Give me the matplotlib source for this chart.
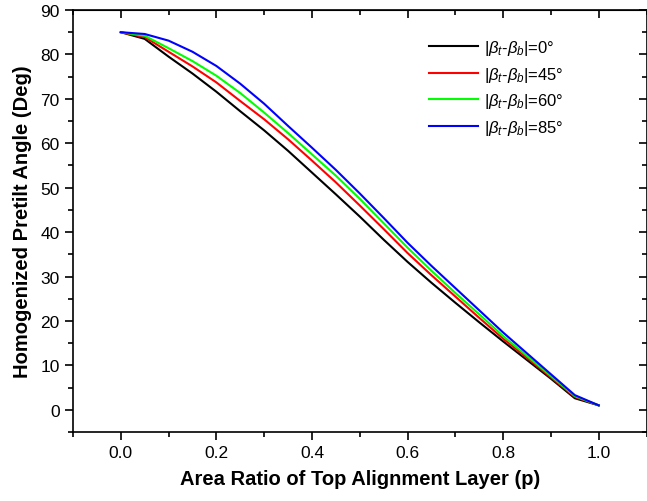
import matplotlib
matplotlib.use("Agg")
import matplotlib.pyplot as plt
from matplotlib.ticker import MultipleLocator

plt.rcParams['font.family'] = ['Liberation Sans', 'DejaVu Sans']
plt.rcParams['mathtext.fontset'] = 'custom'
plt.rcParams['mathtext.rm'] = 'Liberation Sans'
plt.rcParams['mathtext.it'] = 'Liberation Sans:italic'

# area ratio p
p = [0.0, 0.05, 0.1, 0.15, 0.2, 0.25, 0.3, 0.35, 0.4, 0.45, 0.5,
     0.55, 0.6, 0.65, 0.7, 0.75, 0.8, 0.85, 0.9, 0.95, 1.0]

# homogenized pretilt angle for each |beta_t - beta_b|
d0 = [85, 83.5, 79.5, 75.7, 71.6, 67.2, 62.9, 58.3, 53.4, 48.5, 43.5,
      38.3, 33.3, 28.6, 24.1, 19.7, 15.4, 11.2, 7.0, 2.6, 1.0]
d45 = [85, 83.9, 80.6, 77.3, 73.7, 69.5, 65.4, 60.9, 56.1, 51.2, 46.0,
       40.7, 35.3, 30.3, 25.5, 20.7, 16.0, 11.7, 7.3, 2.9, 1.0]
d60 = [85, 84.2, 81.4, 78.5, 75.2, 71.3, 66.9, 62.3, 57.5, 52.7, 47.5,
       42.0, 36.5, 31.3, 26.3, 21.5, 16.6, 12.1, 7.6, 3.1, 1.0]
d85 = [85, 84.6, 83.1, 80.6, 77.4, 73.4, 68.9, 63.9, 59.0, 54.0, 48.7,
       43.2, 37.6, 32.4, 27.4, 22.4, 17.4, 12.7, 8.0, 3.3, 1.0]

labels = [r'$|\beta_t$-$\beta_b|$=0°', r'$|\beta_t$-$\beta_b|$=45°',
          r'$|\beta_t$-$\beta_b|$=60°', r'$|\beta_t$-$\beta_b|$=85°']
colors = ['black', 'red', '#00ff00', 'blue']

fig = plt.figure(figsize=(6.47, 5.02), dpi=100)
ax = fig.add_axes([73/647, 69/502, 573.5/647, 422/502])

for ys, lab, c in zip([d0, d45, d60, d85], labels, colors):
    ax.plot(p, ys, color=c, lw=1.5, label=lab)

ax.set_xlim(-0.1, 1.1)
ax.set_ylim(-5, 90)
ax.xaxis.set_minor_locator(MultipleLocator(0.1))
ax.yaxis.set_major_locator(MultipleLocator(10))
ax.yaxis.set_minor_locator(MultipleLocator(5))
ax.set_xticks([0.0, 0.2, 0.4, 0.6, 0.8, 1.0])
ax.set_xticklabels(['0.0', '0.2', '0.4', '0.6', '0.8', '1.0'])

ax.tick_params(which='both', direction='out', labelsize=12.5, width=1.2)
ax.tick_params(which='major', length=6)
ax.tick_params(which='minor', length=3.5)
for s in ax.spines.values():
    s.set_linewidth(1.2)

# inward ticks on top and right like the original
top = ax.secondary_xaxis('top')
top.set_xticks([0.0, 0.2, 0.4, 0.6, 0.8, 1.0])
top.xaxis.set_minor_locator(MultipleLocator(0.1))
top.tick_params(which='both', direction='in', labeltop=False, width=1.2)
top.tick_params(which='major', length=6)
top.tick_params(which='minor', length=3.5)
right = ax.secondary_yaxis('right')
right.yaxis.set_major_locator(MultipleLocator(10))
right.yaxis.set_minor_locator(MultipleLocator(5))
right.tick_params(which='both', direction='in', labelright=False, width=1.2)
right.tick_params(which='major', length=6)
right.tick_params(which='minor', length=3.5)

ax.set_xlabel('Area Ratio of Top Alignment Layer (p)', fontsize=14.5,
              fontweight='bold', labelpad=6)
ax.set_ylabel('Homogenized Pretilt Angle (Deg)', fontsize=14.5,
              fontweight='bold', labelpad=6)

ax.legend(loc='upper left', bbox_to_anchor=(0.595, 0.969), frameon=False,
          fontsize=12, handlelength=2.9, handletextpad=0.4,
          labelspacing=0.45)

fig.savefig('out.png', dpi=100)
